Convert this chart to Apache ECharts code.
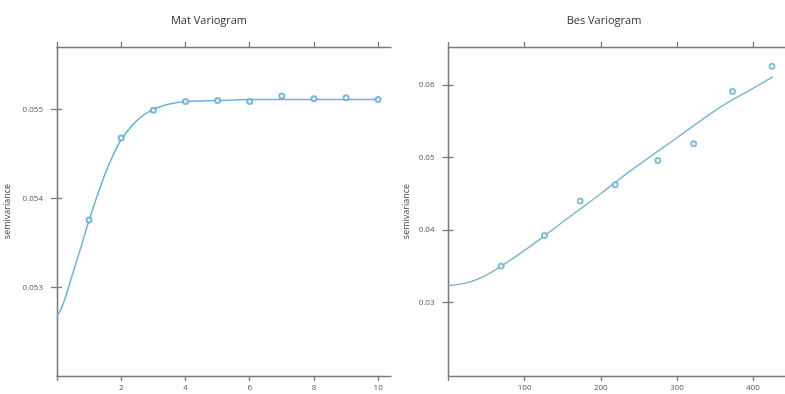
<!DOCTYPE html>
<html>
<head>
<meta charset="utf-8">
<script src="https://cdn.jsdelivr.net/npm/echarts@6/dist/echarts.min.js"></script>
<style>
html,body{margin:0;padding:0;background:#fff;}
#c{width:785px;height:394px;}
</style>
</head>
<body>
<div id="c"></div>
<script>
// ---- Mat variogram ----
const matLagX = [1, 2, 3, 4, 5, 6, 7, 8, 9, 10];
const matGamma = [0.05376, 0.05468, 0.05499, 0.05509, 0.05510, 0.05509, 0.05515, 0.05512, 0.05513, 0.05511];
const matFitX = [0, 0.125, 0.25, 0.5, 0.75, 1, 1.25, 1.5, 1.75, 2, 2.5, 3, 3.5, 4, 5, 6, 7, 8, 9, 10];
const matFitY = [0.05268, 0.05276, 0.05288, 0.05317, 0.05346, 0.05376, 0.05403, 0.05428, 0.05449, 0.05466, 0.05488, 0.05500, 0.05506, 0.05509, 0.05510, 0.05511, 0.05511, 0.05511, 0.05511, 0.05511];
const matXTicks = [0, 2, 4, 6, 8, 10];
const matXLabels = [2, 4, 6, 8, 10];
const matYTicks = [0.053, 0.054, 0.055];

// ---- Bes variogram ----
const besLagX = [69, 126, 173, 219, 275, 322, 373, 425];
const besGamma = [0.03505, 0.03924, 0.04400, 0.04622, 0.04958, 0.05188, 0.05908, 0.06256];
const besFitX = [0, 25, 50, 69, 100, 126, 150, 200, 237, 300, 358, 400, 426];
const besFitY = [0.03236, 0.03275, 0.03380, 0.03500, 0.03720, 0.03920, 0.04110, 0.04500, 0.04800, 0.05270, 0.05700, 0.05950, 0.06110];
const besXTicks = [0, 100, 200, 300, 400];
const besXLabels = [100, 200, 300, 400];
const besYTicks = [0.03, 0.04, 0.05, 0.06];

const FONT = 'Open Sans';
const AX = '#7a7a7a';
const LBL = '#555';

function axisSet(gi, xmin, xmax, xt, xl, ymin, ymax, yt, nameGap) {
  const lineStyle = {color: AX, width: 1.3};
  return {
    x: [
      {gridIndex: gi, type: 'value', position: 'bottom', min: xmin, max: xmax,
        axisLine: {show: true, lineStyle}, splitLine: {show: false},
        axisTick: {show: true, length: 5, lineStyle, customValues: xt},
        axisLabel: {show: true, customValues: xl, color: LBL, fontSize: 8, fontFamily: FONT, margin: 8}},
      {gridIndex: gi, type: 'value', position: 'top', min: xmin, max: xmax,
        axisLine: {show: true, lineStyle}, splitLine: {show: false},
        axisTick: {show: true, length: 5, lineStyle, customValues: xt},
        axisLabel: {show: false}}
    ],
    y: [
      {gridIndex: gi, type: 'value', position: 'left', min: ymin, max: ymax,
        name: 'semivariance', nameLocation: 'middle', nameRotate: 90, nameGap: nameGap,
        nameTextStyle: {color: '#444', fontSize: 9, fontFamily: FONT},
        axisLine: {show: true, lineStyle}, splitLine: {show: false},
        axisTick: {show: true, length: 6, lineStyle, customValues: yt},
        axisLabel: {show: true, customValues: yt, color: LBL, fontSize: 8, fontFamily: FONT, margin: 14,
          formatter: v => String(+v.toFixed(4))}},
      {gridIndex: gi, type: 'value', position: 'right', min: ymin, max: ymax,
        axisLine: {show: true, lineStyle}, splitLine: {show: false},
        axisTick: {show: true, length: 5, lineStyle, customValues: yt},
        axisLabel: {show: false}}
    ]
  };
}

const a0 = axisSet(0, 0, 10.4, matXTicks, matXLabels, 0.05201, 0.0557, matYTicks, 45);
const a1 = axisSet(1, 0, 442, besXTicks, besXLabels, 0.0199, 0.0652, besYTicks, 38);

const zip = (xs, ys) => xs.map((x, i) => [x, ys[i]]);

const chart = echarts.init(document.getElementById('c'), null, {renderer: 'canvas'});
chart.setOption({
  animation: false,
  backgroundColor: '#fff',
  title: [
    {text: 'Mat Variogram', left: 204, top: 10, textAlign: 'center',
      textStyle: {fontSize: 11, fontWeight: 'normal', color: '#333', fontFamily: FONT}},
    {text: 'Bes Variogram', left: 599, top: 10, textAlign: 'center',
      textStyle: {fontSize: 11, fontWeight: 'normal', color: '#333', fontFamily: FONT}}
  ],
  grid: [
    {left: 57, right: 394, top: 47, bottom: 18, containLabel: false},
    {left: 448.5, right: -3, top: 47, bottom: 18, containLabel: false}
  ],
  xAxis: [...a0.x, ...a1.x],
  yAxis: [...a0.y, ...a1.y],
  series: [
    {type: 'line', xAxisIndex: 0, yAxisIndex: 0, data: zip(matFitX, matFitY), smooth: 0.3,
      showSymbol: false, lineStyle: {color: '#6db3d3', width: 1.5}, z: 2},
    {type: 'scatter', xAxisIndex: 0, yAxisIndex: 0, data: zip(matLagX, matGamma),
      symbol: 'emptyCircle', symbolSize: 5,
      itemStyle: {color: '#5aa8cc', borderColor: '#5aa8cc', borderWidth: 0.9}, z: 3},
    {type: 'line', xAxisIndex: 2, yAxisIndex: 2, data: zip(besFitX, besFitY), smooth: 0.3,
      showSymbol: false, lineStyle: {color: '#7ab6c8', width: 1.4}, z: 2},
    {type: 'scatter', xAxisIndex: 2, yAxisIndex: 2, data: zip(besLagX, besGamma),
      symbol: 'emptyCircle', symbolSize: 5,
      itemStyle: {color: '#6aaec6', borderColor: '#6aaec6', borderWidth: 0.9}, z: 3}
  ]
});
</script>
</body>
</html>
